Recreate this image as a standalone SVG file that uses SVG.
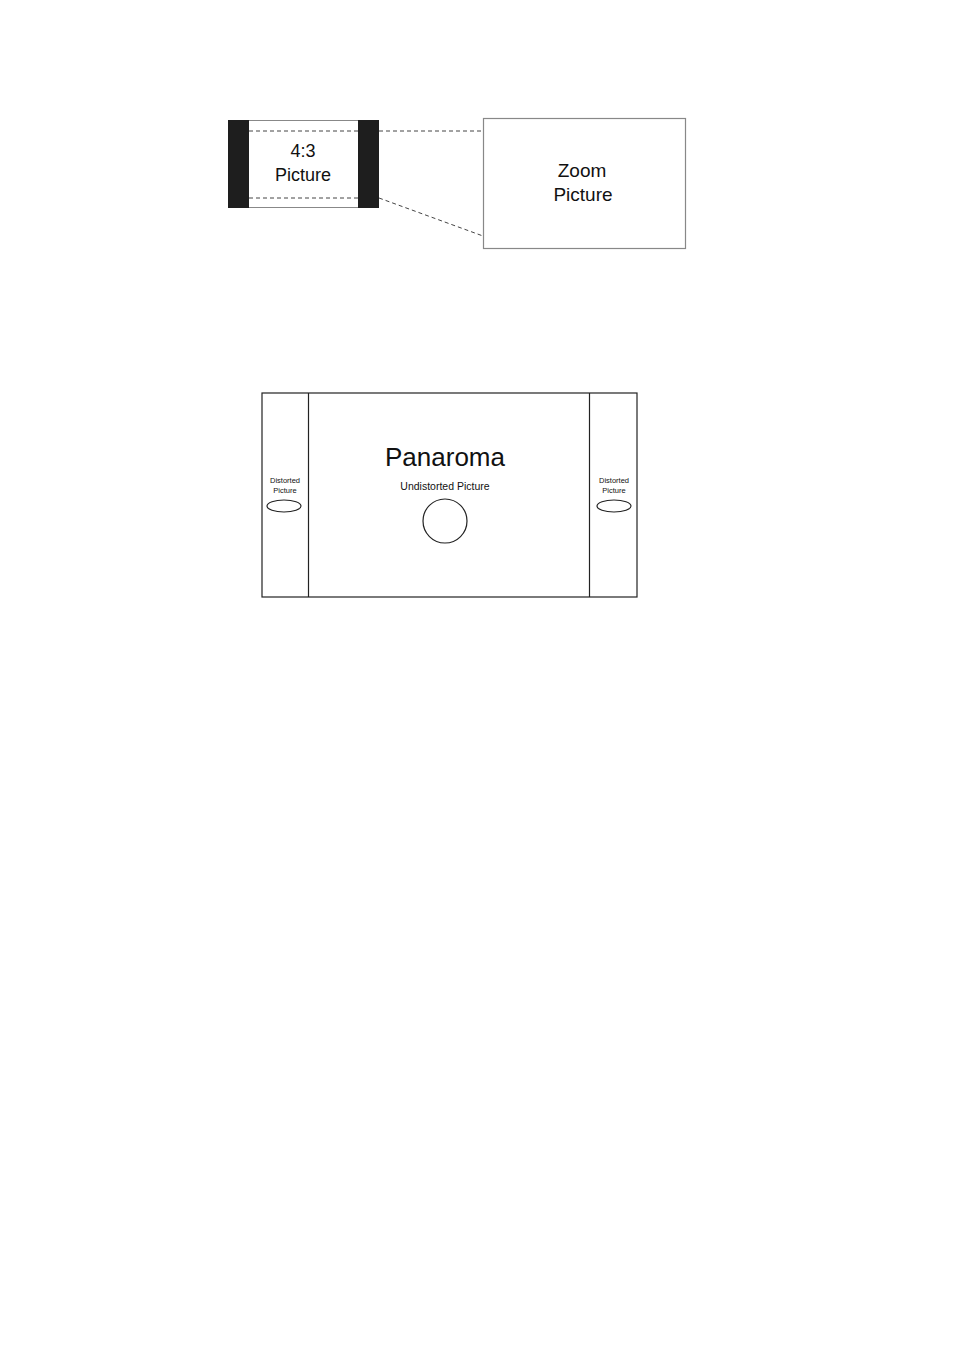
<svg xmlns="http://www.w3.org/2000/svg" width="954" height="1350" viewBox="0 0 954 1350">
<style>
text{font-family:"Liberation Sans",Arial,sans-serif;fill:#111;text-anchor:middle}
.dash{stroke:#444;stroke-width:1;stroke-dasharray:4,3;fill:none}
.ln{stroke:#222;stroke-width:1.2;fill:none}
</style>
<rect width="954" height="1350" fill="#fff"/>
<g id="picture43">
<rect x="228.5" y="120.5" width="150" height="87" fill="#fff" stroke="#888" stroke-width="1"/>
<rect x="228" y="120" width="21" height="88" fill="#1e1e1e"/>
<rect x="358" y="120" width="21" height="88" fill="#1e1e1e"/>
<line class="dash" x1="249" y1="131" x2="358" y2="131"/>
<line class="dash" x1="249" y1="198" x2="358" y2="198"/>
<text x="303" y="157" font-size="18">4:3</text>
<text x="303" y="181" font-size="18">Picture</text>
</g>
<g id="connectors">
<line class="dash" x1="379" y1="131" x2="483" y2="131"/>
<line class="dash" x1="379" y1="198" x2="483" y2="236"/>
</g>
<g id="zoom">
<rect x="483.5" y="118.5" width="202" height="130" fill="#fff" stroke="#888" stroke-width="1.2"/>
<text x="582" y="177" font-size="19">Zoom</text>
<text x="583" y="201" font-size="19">Picture</text>
</g>
<g id="panorama">
<rect x="262" y="393" width="375" height="204" class="ln"/>
<line class="ln" x1="308.5" y1="393" x2="308.5" y2="597"/>
<line class="ln" x1="589.5" y1="393" x2="589.5" y2="597"/>
<text x="445" y="466" font-size="26">Panaroma</text>
<text x="445" y="490" font-size="10.5">Undistorted Picture</text>
<circle cx="445" cy="521" r="22" class="ln"/>
<text x="285" y="483" font-size="7.5">Distorted</text>
<text x="285" y="493" font-size="7.5">Picture</text>
<ellipse cx="284" cy="506" rx="17" ry="6" class="ln"/>
<text x="614" y="483" font-size="7.5">Distorted</text>
<text x="614" y="493" font-size="7.5">Picture</text>
<ellipse cx="614" cy="506" rx="17" ry="6" class="ln"/>
</g>
</svg>
